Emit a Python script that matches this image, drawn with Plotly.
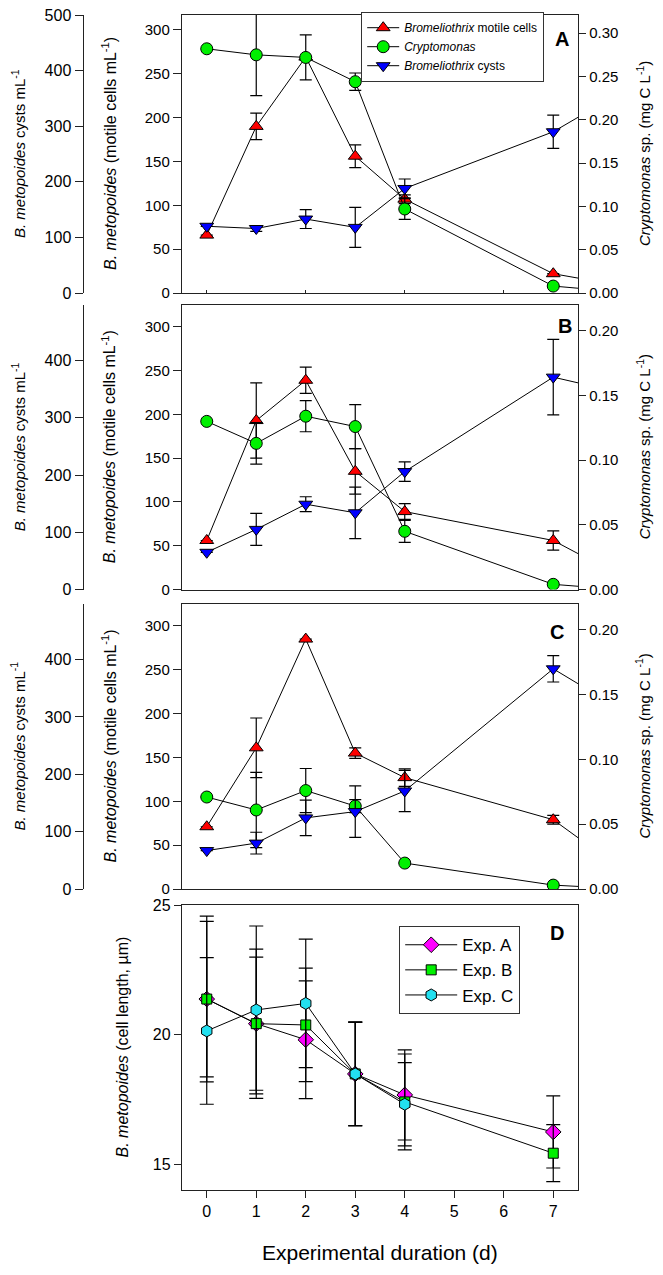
import plotly.graph_objects as go

# the page body keeps its default 8px margin, so the figure is 16px smaller
# than the 663x1275 window and every reference pixel is shifted by OFF
PAGE_W, PAGE_H, OFF = 663, 1275, 8
W, H = PAGE_W - 2 * OFF, PAGE_H - 2 * OFF
FONT = "Arial, Liberation Sans, sans-serif"

# sampling days; the last day of the A-C series lies past the plotted window,
# so its line segment runs off the right edge as in the original figure
days = [0, 1, 2, 3, 4, 7, 8]
days_d = [0, 1, 2, 3, 4, 7]
x_ticks = [0, 1, 2, 3, 4, 5, 6, 7]

# Panel A
motile_a = [66, 190, 269, 156, 107, 22, 12]
motile_a_sd = [0, 15, 0, 13, 5, 0, 0]
crypto_a = [0.282, 0.275, 0.272, 0.244, 0.097, 0.008, 0.003]
crypto_a_sd = [0, 0.047, 0.026, 0.010, 0.012, 0, 0]
cysts_a = [120, 116, 133, 118, 188, 290, 342]
cysts_a_sd = [0, 5, 17, 36, 17, 30, 0]

# Panel B
motile_b = [56, 193, 239, 135, 89, 56, 26]
motile_b_sd = [0, 43, 15, 26, 9, 11, 0]
crypto_b = [0.130, 0.113, 0.134, 0.126, 0.045, 0.004, 0.001]
crypto_b_sd = [0, 0.016, 0.012, 0.017, 0.0085, 0, 0]
cysts_b = [65, 105, 149, 134, 206, 371, 351]
cysts_b_sd = [0, 28, 13, 45, 17, 66, 0]

# Panel C
motile_c = [71, 161, 285, 155, 127, 79, 38]
motile_c_sd = [0, 34, 0, 6, 10, 5, 0]
crypto_c = [0.071, 0.061, 0.076, 0.064, 0.020, 0.003, 0.001]
crypto_c_sd = [0, 0.029, 0.017, 0.005, 0, 0, 0]
cysts_c = [67, 80, 124, 135, 171, 384, 332]
cysts_c_sd = [0, 19, 31, 45, 36, 23, 0]

# Panel D: cell length (um)
len_a = [21.37, 20.42, 19.80, 18.48, 17.67, 16.24]
len_a_sd = [3.2, 2.88, 2.27, 2.0, 1.74, 1.39]
len_b = [21.37, 20.42, 20.37, 18.48, 17.40, 15.42]
len_b_sd = [3.0, 2.57, 2.19, 2.0, 1.85, 1.1]
len_c = [20.14, 20.95, 21.20, 18.48, 17.31, None]
len_c_sd = [2.83, 3.24, 2.48, 2.0, 1.61, 0]

panel_labels = ["A", "B", "C", "D"]
legend_names = ["<i>Bromeliothrix</i> motile cells", "<i>Cryptomonas</i>",
                "<i>Bromeliothrix</i> cysts"]
exp_names = ["Exp. A", "Exp. B", "Exp. C"]


def fx(px):
    return (px - OFF) / W


def fy(py):
    return min(1.0, 1 - (py - OFF) / H)


xdom = [fx(182), fx(578)]
# panel A starts a little lower so its top "500" label stays on the page
panel_px = [(15, 293), (305, 589.5), (604, 889)]
motile_top = [317, 325, 325]
crypto_top = [0.321, 0.22, 0.22]
cyst_top = [500, 497, 497]

panels = [
    (motile_a, motile_a_sd, crypto_a, crypto_a_sd, cysts_a, cysts_a_sd),
    (motile_b, motile_b_sd, crypto_b, crypto_b_sd, cysts_b, cysts_b_sd),
    (motile_c, motile_c_sd, crypto_c, crypto_c_sd, cysts_c, cysts_c_sd),
]

fig = go.Figure()
layout = {}
axis_line = dict(showline=True, linecolor="#222", linewidth=1.4, showgrid=False,
                 zeroline=False, tickcolor="#222", tickwidth=1.2, automargin=False,
                 ticklabeloverflow="allow")


def err(arr):
    return dict(type="data", array=arr, color="black", thickness=1.2, width=6)


for i, (mot, mot_sd, cry, cry_sd, cys, cys_sd) in enumerate(panels):
    xn = "x" if i == 0 else f"x{i + 1}"
    n1, n2, n3 = 3 * i + 1, 3 * i + 2, 3 * i + 3
    y1 = "y" if n1 == 1 else f"y{n1}"
    y2, y3 = f"y{n2}", f"y{n3}"
    top, bot = panel_px[i]
    dom = [fy(bot), fy(top)]
    first = i == 0

    fig.add_trace(go.Scatter(
        x=days, y=mot, error_y=err(mot_sd), mode="lines+markers",
        line=dict(color="black", width=1), xaxis=xn, yaxis=y1,
        marker=dict(symbol="triangle-up", size=12, color="#FF0000",
                    line=dict(color="black", width=1)),
        name=legend_names[0], showlegend=first, legend="legend"))
    fig.add_trace(go.Scatter(
        x=days, y=cry, error_y=err(cry_sd), mode="lines+markers",
        line=dict(color="black", width=1), xaxis=xn, yaxis=y2,
        marker=dict(symbol="circle", size=12, color="#00F000",
                    line=dict(color="black", width=1)),
        name=legend_names[1], showlegend=first, legend="legend"))
    fig.add_trace(go.Scatter(
        x=days, y=cys, error_y=err(cys_sd), mode="lines+markers",
        line=dict(color="black", width=1), xaxis=xn, yaxis=y3,
        marker=dict(symbol="triangle-down", size=12, color="#0000FF",
                    line=dict(color="black", width=1)),
        name=legend_names[2], showlegend=first, legend="legend"))

    layout["xaxis" if i == 0 else f"xaxis{i + 1}"] = dict(
        axis_line, domain=xdom, range=[-0.5, 7.5], anchor=y1, mirror=True,
        tickvals=[0, 2, 4, 6], ticks="inside" if first else "", ticklen=3,
        showticklabels=False)
    layout["yaxis" if n1 == 1 else f"yaxis{n1}"] = dict(
        axis_line, domain=dom, range=[0, motile_top[i]], anchor=xn,
        tickvals=[0, 50, 100, 150, 200, 250, 300], ticks="outside", ticklen=8,
        tickfont=dict(size=15, color="black", family=FONT))
    layout[f"yaxis{n2}"] = dict(
        axis_line, domain=dom, range=[0, crypto_top[i]], anchor=xn,
        overlaying=y1, side="right", dtick=0.05, tickformat=".2f",
        ticks="outside", ticklen=7,
        tickfont=dict(size=15, color="black", family=FONT))
    layout[f"yaxis{n3}"] = dict(
        axis_line, domain=dom, range=[0, cyst_top[i]], anchor="free",
        overlaying=y1, side="left", position=fx(82.7),
        tickvals=[0, 100, 200, 300, 400, 500], ticks="outside", ticklen=8,
        tickfont=dict(size=16, color="black", family=FONT))

# Panel D
d_specs = [
    (len_a, len_a_sd, "diamond", "#FF00FF", 12),
    (len_b, len_b_sd, "square", "#00F000", 10),
    (len_c, len_c_sd, "hexagon", "#22E0F0", 12),
]
for (vals, sd, sym, col, sz), nm in zip(d_specs, exp_names):
    fig.add_trace(go.Scatter(
        x=days_d, y=vals,
        error_y=dict(type="data", array=sd, color="black", thickness=1.2, width=7),
        mode="lines+markers", line=dict(color="black", width=1),
        marker=dict(symbol=sym, size=sz, color=col, line=dict(color="black", width=1)),
        xaxis="x4", yaxis="y10", name=nm, legend="legend2"))

layout["xaxis4"] = dict(
    axis_line, domain=xdom, range=[-0.5, 7.5], anchor="y10", mirror=True,
    tickvals=x_ticks, ticks="outside", ticklen=7,
    tickfont=dict(size=16, color="black", family=FONT))
layout["yaxis10"] = dict(
    axis_line, domain=[fy(1190), fy(905)], range=[14, 25], anchor="x4", mirror=True,
    tickvals=[15, 20, 25], ticks="outside", ticklen=7,
    tickfont=dict(size=16, color="black", family=FONT))

annotations = []


def vtitle(text, xpx, ypx, size=16):
    annotations.append(dict(text=text, x=fx(xpx), y=fy(ypx), xref="paper", yref="paper",
                            textangle=-90, showarrow=False, xanchor="center",
                            yanchor="middle", font=dict(size=size, color="black", family=FONT)))


for top, bot in panel_px:
    mid = (top + bot) / 2
    vtitle("<i>B. metopoides</i> cysts mL<sup>-1</sup>", 18, mid, 15)
    vtitle("<i>B. metopoides</i> (motile cells mL<sup>-1</sup>)", 109, mid)
    vtitle("<i>Cryptomonas</i> sp. (mg C L<sup>-1</sup>)", 643, mid, 15)
vtitle("<i>B. metopoides</i> (cell length, µm)", 122, 1047.5)

label_px = [(562, 39), (565, 326), (557, 632), (557, 933)]
for lab, (lx, ly) in zip(panel_labels, label_px):
    annotations.append(dict(text=f"<b>{lab}</b>", x=fx(lx), y=fy(ly), xref="paper",
                            yref="paper", showarrow=False, xanchor="center",
                            yanchor="middle", font=dict(size=20, color="black", family=FONT)))

annotations.append(dict(text="Experimental duration (d)", x=fx(380), y=fy(1252),
                        xref="paper", yref="paper", showarrow=False, xanchor="center",
                        yanchor="middle", font=dict(size=21, color="black", family=FONT)))

fig.update_layout(
    width=W, height=H, margin=dict(l=0, r=0, t=0, b=0, autoexpand=False),
    plot_bgcolor="white", paper_bgcolor="white",
    font=dict(family=FONT, color="black"),
    annotations=annotations,
    legend=dict(x=fx(361), y=fy(12), xanchor="left", yanchor="top",
                bordercolor="#333", borderwidth=1.2, bgcolor="white", itemwidth=32,
                font=dict(size=12, family=FONT, color="black"), tracegroupgap=0),
    legend2=dict(x=fx(399), y=fy(926), xanchor="left", yanchor="top",
                 bordercolor="#333", borderwidth=1.2, bgcolor="white", itemwidth=52,
                 font=dict(size=17, family=FONT, color="black")),
    **layout,
)

fig.write_html("out.html")
